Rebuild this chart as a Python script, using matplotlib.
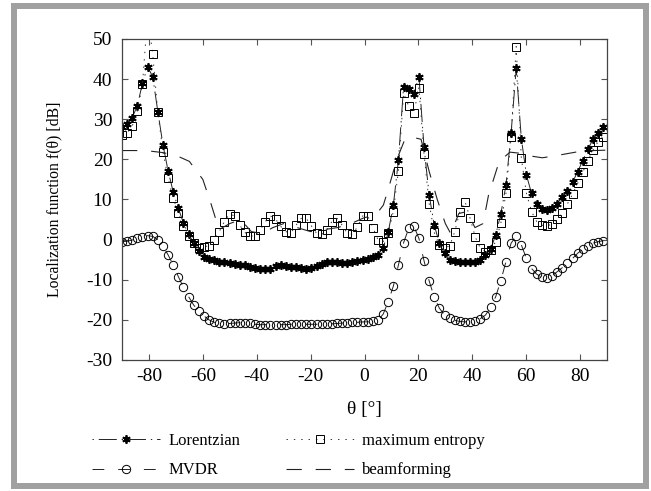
import numpy as np
import matplotlib.pyplot as plt
from matplotlib.patches import Rectangle

# angle grid of the three sampled estimators
theta = -90 + 1.9 * np.arange(95)

lorentzian = [28.1, 28.7, 30.4, 33.4, 39.0, 43.1, 40.6, 31.9, 23.6, 17.2,
              11.9, 7.8, 4.2, 1.4, -0.8, -2.8, -4.3, -4.9, -5.2, -5.5,
              -5.7, -5.9, -6.0, -6.2, -6.4, -6.7, -7.0, -7.2, -7.4, -7.2,
              -6.6, -6.3, -6.5, -6.7, -6.9, -7.1, -7.2, -7.0, -6.5, -6.0,
              -5.6, -5.5, -5.7, -5.9, -5.9, -5.7, -5.4, -5.1, -4.8, -4.4,
              -3.9, -2.0, 1.8, 8.6, 19.8, 38.1, 37.5, 36.3, 40.6, 23.0,
              11.1, 3.6, -0.9, -3.4, -5.0, -5.4, -5.6, -5.7, -5.7, -5.6,
              -5.1, -3.9, -2.4, 1.2, 6.4, 13.6, 26.5, 42.7, 25.2, 16.1,
              11.5, 9.0, 7.6, 7.4, 8.0, 9.0, 10.5, 12.2, 14.3, 16.9,
              19.7, 22.5, 25.0, 26.6, 28.0]

mvdr = [-0.5, -0.4, -0.1, 0.3, 0.7, 1.0, 0.8, 0.0, -1.6, -3.8,
        -6.3, -9.2, -11.9, -14.2, -16.3, -17.8, -19.0, -20.0, -20.6, -20.9,
        -21.0, -20.9, -20.8, -20.7, -20.8, -20.9, -21.1, -21.2, -21.2, -21.2,
        -21.2, -21.2, -21.2, -21.1, -21.1, -21.1, -21.1, -21.1, -21.1, -21.0,
        -21.0, -21.0, -20.9, -20.8, -20.7, -20.6, -20.6, -20.5, -20.5, -20.3,
        -20.1, -18.6, -15.5, -11.6, -6.3, -0.8, 2.8, 3.4, 0.3, -5.3,
        -10.3, -14.4, -17.1, -18.8, -19.6, -20.1, -20.4, -20.5, -20.5, -20.3,
        -19.7, -18.8, -16.9, -14.2, -10.2, -5.5, -0.9, 0.9, -1.3, -4.7,
        -7.2, -8.6, -9.4, -9.5, -9.0, -8.0, -7.0, -5.9, -4.7, -3.4,
        -2.4, -1.6, -0.9, -0.5, -0.3]

max_entropy = [26.1, 26.6, 28.3, 32.1, 38.8, 56.0, 46.2, 31.7, 21.9, 15.4,
               10.4, 6.6, 3.4, 1.0, -0.8, -2.0, -1.8, -1.5, 0.0, 2.0,
               4.5, 6.4, 5.9, 3.6, 1.8, 0.9, 0.9, 2.4, 4.5, 5.9,
               5.1, 3.3, 2.0, 1.7, 3.6, 5.3, 5.3, 3.4, 1.6, 1.3,
               2.4, 4.5, 5.3, 3.6, 1.6, 1.3, 3.2, 5.9, 5.9, 3.0,
               0.0, -0.5, 1.6, 7.0, 17.2, 36.5, 33.3, 31.5, 37.9, 21.3,
               9.0, 1.8, -1.3, -2.0, -1.6, 2.0, 7.0, 9.5, 5.3, 0.7,
               -2.2, -3.0, -2.6, -0.5, 4.1, 11.5, 25.5, 48.1, 20.3, 11.5,
               7.0, 4.5, 3.6, 3.4, 3.9, 5.1, 6.7, 8.9, 11.3, 14.0,
               16.8, 19.7, 22.3, 24.4, 25.7]

theta_bf = [-90, -85, -80, -75, -70, -65, -60, -57, -54, -50, -46, -42, -38,
            -34, -30, -25, -20, -15, -10, -5, 0, 4, 7, 9, 12, 15, 18, 21,
            24, 27, 30, 32, 35, 38, 41, 44, 46, 50, 54, 58, 62, 66, 70, 75,
            80, 85, 90]
beamforming = [22.2, 22.2, 22.1, 21.7, 21.0, 19.5, 15.0, 9.0, 2.5, 4.0, 5.0,
               2.0, 1.5, 3.0, 4.0, 3.0, 2.0, 2.5, 3.0, 4.0, 5.5, 6.0, 8.6,
               13.0, 20.0, 25.0, 25.5, 25.0, 17.0, 10.0, 4.0, 1.5, 6.5, 7.0,
               3.0, 4.0, 11.0, 19.5, 21.8, 21.5, 20.8, 20.4, 20.8, 21.4,
               22.0, 22.2, 22.3]

xticks = [-80, -60, -40, -20, 0, 20, 40, 60, 80]
yticks = [-30, -20, -10, 0, 10, 20, 30, 40, 50]

plt.rcParams['font.family'] = ['Liberation Serif', 'DejaVu Serif']
plt.rcParams['lines.scale_dashes'] = False
plt.rcParams['axes.unicode_minus'] = False

fig = plt.figure(figsize=(6.51, 4.91), dpi=100)
ax = fig.add_axes([122/651, 1-360/491, 485/651, 321/491])

l1, = ax.plot(theta, lorentzian, color='#222222', lw=0.7,
              ls=(16.5, (13, 3.5, 1, 3.5)),
              marker=(6, 2, 0), ms=6, mec='k', mew=1.3)
l2, = ax.plot(theta, mvdr, color='#222222', lw=0.7, ls=(0, (8.5, 10)),
              marker='o', ms=6, mfc='none', mec='k', mew=0.7)
l3, = ax.plot(theta, max_entropy, color='#333333', lw=0.7, ls=(0, (1, 4.3)),
              marker='s', ms=5.5, mfc='none', mec='k', mew=0.7)
l4, = ax.plot(theta_bf, beamforming, color='#222222', lw=0.8,
              ls=(0, (11, 10)))

ax.set_xlim(-90, 90)
ax.set_ylim(-30, 50)
ax.set_xticks(xticks)
ax.set_yticks(yticks)
ax.tick_params(direction='in', top=True, right=True, length=4, labelsize=14,
               color='#555555')
ax.tick_params(axis='x', pad=6)
ax.tick_params(axis='y', pad=7)
for s in ax.spines.values():
    s.set_color('#444444')
    s.set_linewidth(0.9)
ax.set_xlabel('θ [°]', fontsize=14)
ax.set_ylabel('Localization function f(θ) [dB]', fontsize=11.3)
ax.xaxis.set_label_coords(0.5, -0.127)
ax.yaxis.set_label_coords(-0.122, 0.5)

fig.legend([l1, l2, l3, l4],
           ['Lorentzian', 'MVDR', 'maximum entropy', 'beamforming'],
           ncol=2, loc='upper left', bbox_to_anchor=(92/651, 1-433/491),
           frameon=False, fontsize=12, handlelength=4.1, handletextpad=0.5,
           columnspacing=2.7, labelspacing=0.8, numpoints=1,
           borderpad=0, borderaxespad=0)

fig.patches.append(Rectangle((14/651, 5/491), 631.5/651, 480/491,
                             transform=fig.transFigure, fill=False,
                             edgecolor='#a0a0a0', lw=4.3))

fig.savefig('out.png', dpi=100)
